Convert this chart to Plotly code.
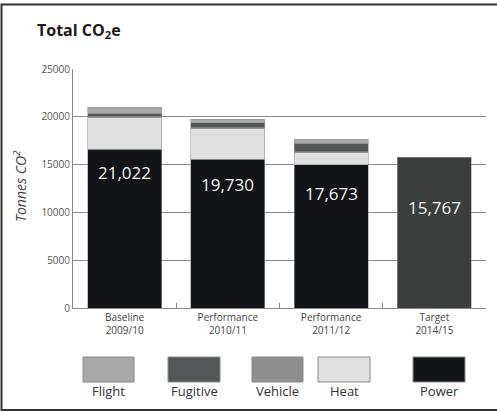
import plotly.graph_objects as go

categories = ["Baseline<br>2009/10", "Performance<br>2010/11", "Performance<br>2011/12", "Target<br>2014/15"]
power = [16600, 15585, 15010, None]
heat = [3306, 3170, 1235, None]
vehicle = [120, 100, 100, None]
fugitive = [340, 500, 910, None]
flight = [656, 375, 418, None]
target = [None, None, None, 15767]
totals = [21022, 19730, 17673, 15767]
total_labels = ["21,022", "19,730", "17,673", "15,767"]
legend_names = ["Flight", "Fugitive", "Vehicle", "Heat", "Power"]
y_ticks = [0, 5000, 10000, 15000, 20000, 25000]

colors = {"Power": "#121417", "Heat": "#e0e0e0", "Vehicle": "#8e8e8e",
          "Fugitive": "#545757", "Flight": "#a9a9a9", "Target": "#3c3e3e"}
FONT = "Open Sans"

fig = go.Figure()
for name, vals in [("Power", power), ("Heat", heat), ("Vehicle", vehicle),
                   ("Fugitive", fugitive), ("Flight", flight), ("Target", target)]:
    fig.add_trace(go.Bar(x=categories, y=vals, name=name,
                         marker=dict(color=colors[name], line=dict(color="#9a9a9a", width=0.6)),
                         showlegend=False, hoverinfo="skip"))

# value labels inside bars
label_shift = [-23, -25, -29, -50]
label_base = [power[0], power[1], power[2], target[3]]
for c, yb, t, s in zip(categories, label_base, total_labels, label_shift):
    fig.add_annotation(x=c, y=yb, text=t, showarrow=False, yshift=s,
                       xanchor="center", yanchor="middle",
                       font=dict(family=FONT, size=17, color="#f2f2f2"))

# custom legend
box_x = [(83, 134), (168, 220), (252, 303), (318, 370), (413, 465)]
L, R, B, T = 73, 486, 308, 69
pw, ph = R - L, B - T
def px(x): return (x - L) / pw
def py(y): return (B - y) / ph
for name, (x0, x1) in zip(legend_names, box_x):
    fig.add_shape(type="rect", xref="paper", yref="paper",
                  x0=px(x0), x1=px(x1), y0=py(382), y1=py(357),
                  fillcolor=colors[name], line=dict(color="#8a8a8a", width=1))
    fig.add_annotation(xref="paper", yref="paper", x=px((x0 + x1) / 2), y=py(391),
                       xanchor="center", yanchor="middle",
                       text=name, showarrow=False,
                       font=dict(family=FONT, size=13, color="#333"))

# frame
fig.add_shape(type="rect", xref="paper", yref="paper",
              x0=px(1.5), x1=px(502), y0=py(410), y1=py(4.5),
              line=dict(color="#333", width=2))

# title
fig.add_annotation(xref="paper", yref="paper", x=px(35), y=py(31),
                   xanchor="left", yanchor="middle",
                   text="<b>Total CO<sub>2</sub>e</b>", showarrow=False,
                   font=dict(family=FONT, size=16, color="#1a1a1a"))
# y title
fig.add_annotation(xref="paper", yref="paper", x=px(20), y=py(186),
                   xanchor="center", yanchor="middle",
                   text="<i>Tonnes CO<sup>2</sup></i>", showarrow=False, textangle=-90,
                   font=dict(family=FONT, size=14, color="#444"))

fig.update_layout(
    width=497, height=412, barmode="stack", bargap=0.283,
    margin=dict(l=L, r=497 - R, t=T, b=412 - B),
    plot_bgcolor="white", paper_bgcolor="white",
    font=dict(family=FONT, color="#444"),
    xaxis=dict(showline=True, linecolor="#8a8a8a", linewidth=1,
               ticks="inside", tickson="boundaries", ticklen=5, tickcolor="#8a8a8a",
               tickfont=dict(size=10, color="#444"), showgrid=False),
    yaxis=dict(range=[0, 25000], tickvals=y_ticks, tickformat="d", showline=True,
               linecolor="#8a8a8a", gridcolor="#8a8a8a", gridwidth=1, zeroline=False,
               tickfont=dict(size=10, color="#555"), ticks=""),
)
fig.write_html("out.html")
